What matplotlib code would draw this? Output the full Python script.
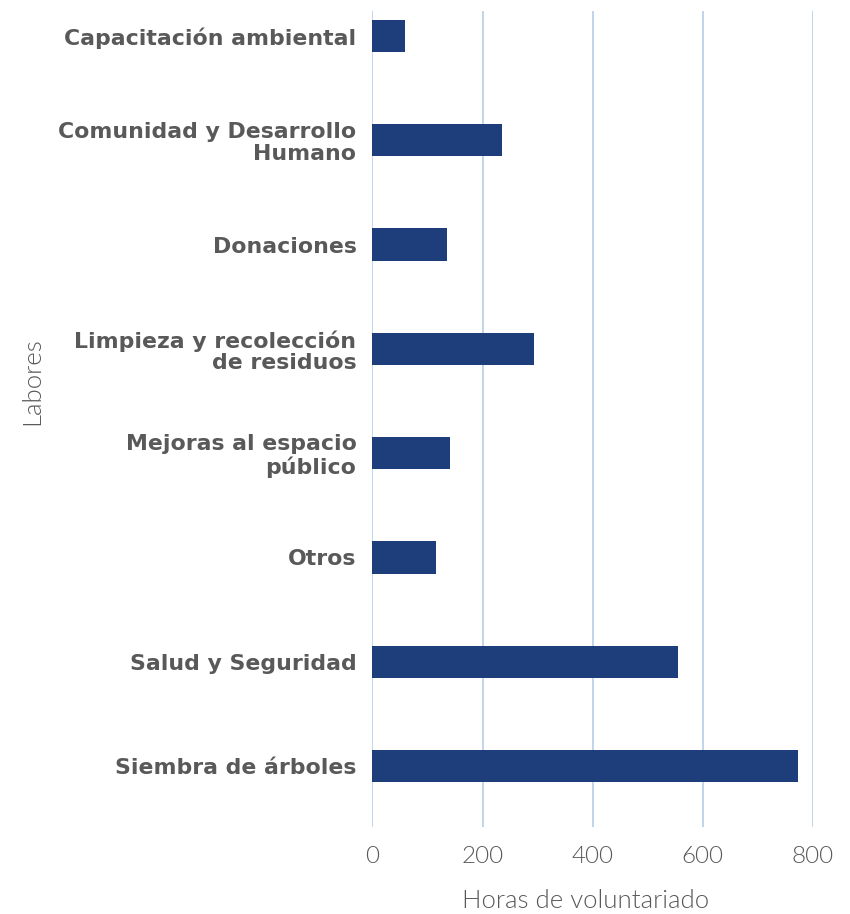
import matplotlib
matplotlib.use("Agg")
import matplotlib.pyplot as plt

# Data
categories = [
    "Capacitación ambiental",
    "Comunidad y Desarrollo\nHumano",
    "Donaciones",
    "Limpieza y recolección\nde residuos",
    "Mejoras al espacio\npúblico",
    "Otros",
    "Salud y Seguridad",
    "Siembra de árboles",
]
hours = [59, 235, 135, 294, 141, 115, 555, 774]
x_ticks = [0, 200, 400, 600, 800]

bar_color = "#1D3E7B"
grid_color = "#B7CDE6"
text_color = "#595959"

light_family = "Lato"
bold_family = "DejaVu Sans"

fig = plt.figure(figsize=(8.5, 9.14), dpi=100)
ax = fig.add_axes([0.4382, 0.0952, 0.5179, 0.8928])

positions = list(range(len(categories)))
ax.barh(positions, hours, height=0.31, color=bar_color, zorder=3)

ax.set_ylim(len(categories) - 1 + 0.585, -0.24)
ax.set_xlim(0, 800)
ax.set_xticks(x_ticks)
ax.set_xticklabels([str(t) for t in x_ticks], fontfamily=light_family,
                   fontweight=300, fontsize=17.5, color=text_color)
ax.set_yticks(positions)
ax.set_yticklabels(categories, fontfamily=bold_family, fontweight="bold",
                   fontsize=15.8, color=text_color, linespacing=1.1,
                   multialignment="right")

ax.tick_params(axis="both", length=0)
ax.tick_params(axis="x", pad=14)
ax.tick_params(axis="y", pad=11.5)

ax.xaxis.grid(True, color=grid_color, linewidth=1.2, zorder=0)
ax.yaxis.grid(False)
for s in ax.spines.values():
    s.set_visible(False)

ax.set_xlabel("Horas de voluntariado", fontfamily=light_family,
              fontweight=300, fontsize=18.5, color=text_color)
ax.xaxis.set_label_coords(0.484, -0.0907)
ax.set_ylabel("Labores", fontfamily=light_family, fontweight=300,
              fontsize=18.5, color=text_color)
ax.yaxis.set_label_coords(-0.7735, 0.5466)
ax.xaxis.label.set_va("center")
ax.yaxis.label.set_va("center")

fig.savefig("out.png", dpi=100)
